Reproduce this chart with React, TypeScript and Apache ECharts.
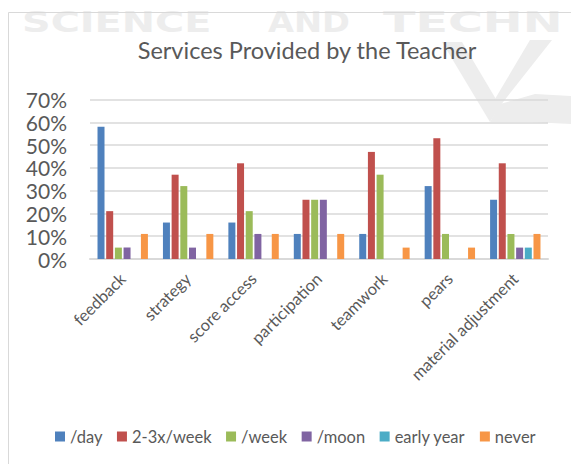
import React, { useEffect, useRef } from "react";
import * as echarts from "echarts";

const categories = ["feedback", "strategy", "score access", "participation", "teamwork", "pears", "material adjustment"];
const seriesNames = ["/day", "2-3x/week", "/week", "/moon", "early year", "never"];
const dayValues = [58, 16, 16, 11, 11, 32, 26];
const twoThreeWeekValues = [21, 37, 42, 26, 47, 53, 42];
const weekValues = [5, 32, 21, 26, 37, 11, 11];
const moonValues = [5, 5, 11, 26, 0, 0, 5];
const earlyYearValues = [0, 0, 0, 0, 0, 0, 5];
const neverValues = [11, 11, 11, 11, 5, 5, 11];
const yTicks = [0, 10, 20, 30, 40, 50, 60, 70];

const colors = ["#4F81BD", "#C0504D", "#9BBB59", "#8064A2", "#4BACC6", "#F79646"];
const allValues = [dayValues, twoThreeWeekValues, weekValues, moonValues, earlyYearValues, neverValues];

const FONT = "Lato";
const TEXT = "#595959";
const WM = "#ededed";

export default function App() {
  const ref = useRef<HTMLDivElement>(null);
  useEffect(() => {
    if (!ref.current) return;
    const chart = echarts.init(ref.current, undefined, { renderer: "svg" });
    const option: any = {
      animation: false,
      backgroundColor: "#ffffff",
      textStyle: { fontFamily: FONT },
      title: {
        text: "Services Provided by the Teacher",
        left: 302,
        textAlign: "center",
        top: 33,
        textStyle: { fontFamily: FONT, fontSize: 23.5, fontWeight: "normal", color: TEXT },
      },
      graphic: [
        { type: "text", x: 22, y: 8, z: -10, scaleX: 1.42, style: { text: "SCIENCE", fill: WM, font: "bold 28px 'DejaVu Sans'" } },
        { type: "text", x: 268, y: 8, z: -10, scaleX: 1.2, style: { text: "AND", fill: WM, font: "bold 28px 'DejaVu Sans'" } },
        { type: "text", x: 383, y: 8, z: -10, scaleX: 1.7, style: { text: "TECHN", fill: WM, font: "bold 28px 'DejaVu Sans'" } },
        { type: "polygon", z: -10, shape: { points: [[442, 42], [462, 42], [500, 106], [490, 122]] }, style: { fill: WM } },
        { type: "polygon", z: -10, shape: { points: [[530, 40], [552, 40], [500, 106], [492, 104]] }, style: { fill: WM } },
        { type: "polygon", z: -10, shape: { points: [[490, 122], [500, 104], [535, 94], [571, 96], [571, 124], [530, 122]] }, style: { fill: WM } },
        { type: "line", z: -5, shape: { x1: 8.5, y1: 12.5, x2: 571, y2: 12.5 }, style: { stroke: "#d9d9d9", lineWidth: 1 } },
        { type: "line", z: -5, shape: { x1: 8.5, y1: 12.5, x2: 8.5, y2: 464 }, style: { stroke: "#d9d9d9", lineWidth: 1 } },
      ],
      legend: {
        data: seriesNames,
        top: 423,
        left: 50,
        itemWidth: 10,
        itemHeight: 10,
        itemGap: 14.5,
        icon: "rect",
        textStyle: { fontFamily: FONT, fontSize: 16.5, color: TEXT },
      },
      grid: { left: 90, right: 23, top: 99.5, bottom: 205, containLabel: false },
      xAxis: {
        type: "category",
        data: categories,
        axisLine: { lineStyle: { color: "#d9d9d9", width: 2 } },
        axisTick: { show: false },
        axisLabel: { rotate: 45, interval: 0, fontSize: 16.5, color: TEXT, fontFamily: FONT, margin: 17 },
      },
      yAxis: {
        type: "value",
        min: 0,
        max: yTicks[yTicks.length - 1],
        interval: 10,
        axisLine: { show: false },
        axisTick: { show: false },
        splitLine: { lineStyle: { color: "#d9d9d9", width: 1.5 } },
        axisLabel: { formatter: (v: number) => v + "%", fontSize: 21, color: TEXT, fontFamily: FONT, margin: 23 },
      },
      series: seriesNames.map((name, i) => ({
        name,
        type: "bar",
        data: allValues[i],
        barWidth: 7,
        barGap: "24%",
        itemStyle: { color: colors[i] },
      })),
    };
    chart.setOption(option);
    return () => chart.dispose();
  }, []);
  return <div ref={ref} style={{ width: 571, height: 464, position: "absolute", left: 0, top: 0 }} />;
}
